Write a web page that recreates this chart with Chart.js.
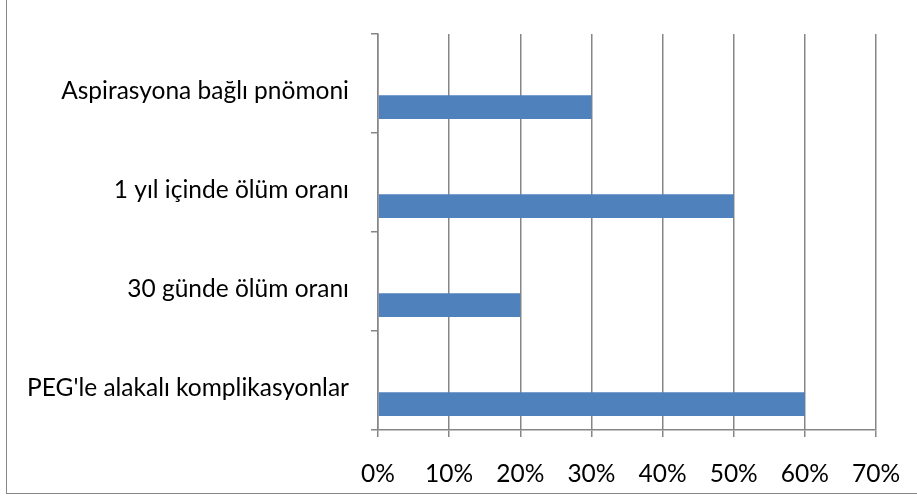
<!DOCTYPE html>
<html>
<head>
<meta charset="utf-8">
<script src="https://cdn.jsdelivr.net/npm/chart.js@4/dist/chart.umd.min.js"></script>
<style>
  html, body { margin: 0; padding: 0; background: #fff; }
  #wrap { position: relative; width: 917px; height: 497px; }
  #frame {
    position: absolute; left: 6px; top: -2px; width: 915px; height: 495px;
    border-left: 1.5px solid #868686; border-bottom: 1.5px solid #868686;
  }
  canvas { position: absolute; left: 0; top: 0; }
</style>
</head>
<body>
<div id="wrap">
  <div id="frame"></div>
  <canvas id="myChart" width="917" height="497"></canvas>
</div>
<script>
// categories, top to bottom as in the picture
const categories = [
  "Aspirasyona bağlı pnömoni",
  "1 yıl içinde ölüm oranı",
  "30 günde ölüm oranı",
  "PEG'le alakalı komplikasyonlar"
];
// percent values
const values = [30, 50, 20, 60];
// two empty series (keep the bar in the lower part of each slot, like the original)
const emptyA = [null, null, null, null];
const emptyB = [null, null, null, null];
const xTicks = [0, 10, 20, 30, 40, 50, 60, 70];

const gridColor = "#868686";
const font = { family: "Lato", size: 24.5 };

const ctx = document.getElementById("myChart");

new Chart(ctx, {
  type: "bar",
  data: {
    labels: categories,
    datasets: [
      { label: "Seri 3", data: emptyB, backgroundColor: "#c0504d" },
      { label: "Seri 2", data: emptyA, backgroundColor: "#9bbb59" },
      { label: "Seri 1", data: values, backgroundColor: "#4f81bd", borderWidth: 0 }
    ]
  },
  options: {
    indexAxis: "y",
    responsive: false,
    animation: false,
    categoryPercentage: 0.717,
    barPercentage: 1,
    layout: { padding: { top: 34, right: 41, bottom: 0, left: 0 } },
    plugins: {
      legend: { display: false },
      tooltip: { enabled: false }
    },
    scales: {
      x: {
        min: xTicks[0],
        max: xTicks[xTicks.length - 1],
        afterBuildTicks: (s) => { s.ticks = xTicks.map(v => ({ value: v })); },
        afterFit: (s) => {
          s.height = 67;
          s.paddingLeft = 0;
          s.paddingRight = 0;
        },
        grid: { color: gridColor, lineWidth: 1.5, tickLength: 7, drawTicks: true },
        border: { color: gridColor, width: 1.5 },
        ticks: {
          color: "#000",
          font: font,
          padding: 22,
          maxRotation: 0,
          callback: (v) => v + "%"
        }
      },
      y: {
        afterFit: (s) => {
          s.width = 378;
          s.paddingTop = 0;
          s.paddingBottom = 0;
        },
        grid: { offset: true, drawOnChartArea: false, color: gridColor, lineWidth: 1.5, tickLength: 7 },
        border: { color: gridColor, width: 1.5 },
        ticks: {
          color: "#000",
          font: font,
          padding: 22,
          labelOffset: 8
        }
      }
    }
  }
});
</script>
</body>
</html>
